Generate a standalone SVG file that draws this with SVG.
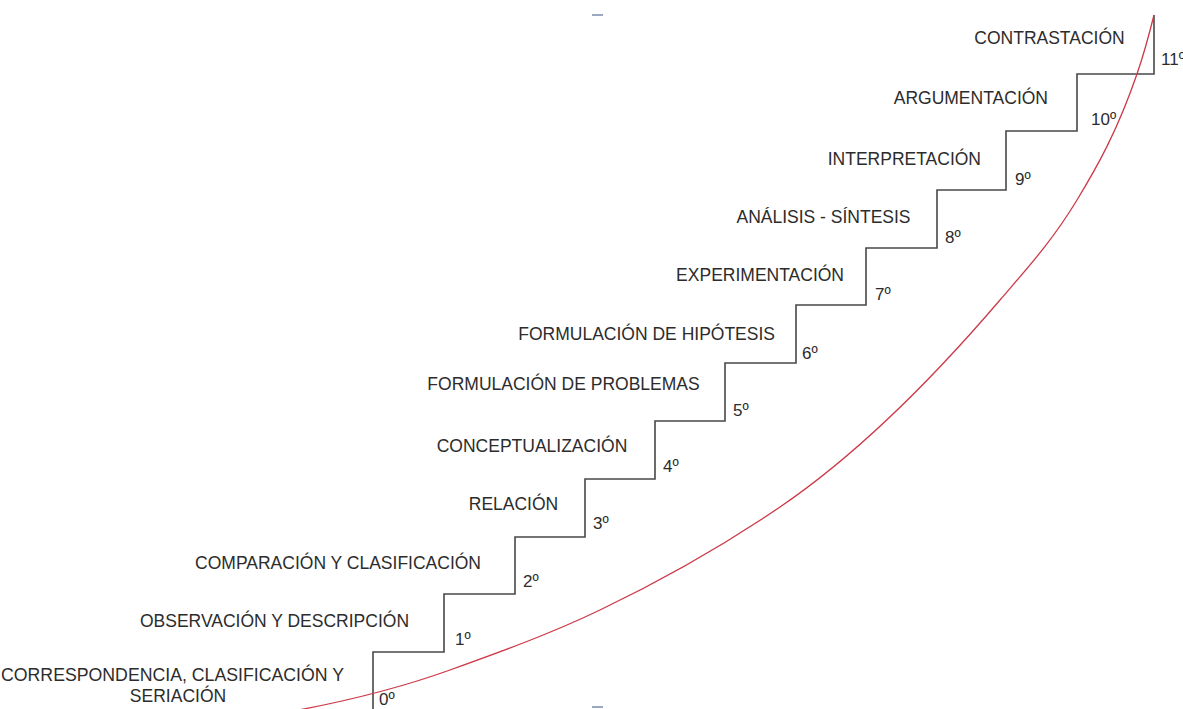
<svg xmlns="http://www.w3.org/2000/svg" width="1183" height="709" viewBox="0 0 1183 709">
<style>
.lbl{font-family:"Liberation Sans",Arial,sans-serif;font-size:17.5px;fill:#2c2c2c;}
.num{font-family:"Liberation Sans",Arial,sans-serif;font-size:17px;fill:#2c2c2c;}
.stair{fill:none;stroke:#484848;stroke-width:1.6;}
.curve{fill:none;stroke:#cc3a48;stroke-width:1.3;}
</style>
<rect width="1183" height="709" fill="#ffffff"/>
<rect x="592" y="14" width="11" height="2" fill="#9aa8c0"/>
<rect x="592" y="706" width="11" height="2" fill="#9aa8c0"/>
<g id="connectors">
<path id="staircase" class="stair" d="M373,709 V652 H444 V594 H515 V537 H585 V479 H655 V421 H725 V363 H796 V305 H866 V248 H937 V190 H1006 V131 H1077 V74 H1154 V15"/>
<path id="curve" class="curve" d="M288,712 C340,702.5 398.33,688.6 450,670 C500,652 550,634 600,610 C660,581.2 720,547.8 780,507 C853.33,457.1 926.67,385.8 1000,300 C1025.67,270 1051.33,242.4 1077,200 C1097,167 1117,132 1137,74 C1142.67,57.6 1148.33,37.7 1154,15"/>
</g>
<g id="step0"><text class="lbl" x="1" y="681" textLength="343" lengthAdjust="spacingAndGlyphs">CORRESPONDENCIA, CLASIFICACIÓN Y</text><text class="lbl" x="178" y="702" text-anchor="middle">SERIACIÓN</text><text class="num" x="379" y="705">0º</text></g>
<g id="step1"><text class="lbl" x="274.5" y="627" text-anchor="middle">OBSERVACIÓN Y DESCRIPCIÓN</text><text class="num" x="455" y="645">1º</text></g>
<g id="step2"><text class="lbl" x="481" y="569" text-anchor="end">COMPARACIÓN Y CLASIFICACIÓN</text><text class="num" x="523" y="587">2º</text></g>
<g id="step3"><text class="lbl" x="513.5" y="510" text-anchor="middle">RELACIÓN</text><text class="num" x="593" y="529">3º</text></g>
<g id="step4"><text class="lbl" x="532" y="452" text-anchor="middle">CONCEPTUALIZACIÓN</text><text class="num" x="663" y="472">4º</text></g>
<g id="step5"><text class="lbl" x="563.5" y="390" text-anchor="middle">FORMULACIÓN DE PROBLEMAS</text><text class="num" x="733" y="416">5º</text></g>
<g id="step6"><text class="lbl" x="775" y="340" text-anchor="end">FORMULACIÓN DE HIPÓTESIS</text><text class="num" x="802" y="359">6º</text></g>
<g id="step7"><text class="lbl" x="844" y="281" text-anchor="end">EXPERIMENTACIÓN</text><text class="num" x="875" y="300">7º</text></g>
<g id="step8"><text class="lbl" x="823.5" y="223" text-anchor="middle">ANÁLISIS - SÍNTESIS</text><text class="num" x="945" y="243">8º</text></g>
<g id="step9"><text class="lbl" x="981" y="165" text-anchor="end">INTERPRETACIÓN</text><text class="num" x="1015" y="185">9º</text></g>
<g id="step10"><text class="lbl" x="1048" y="104" text-anchor="end">ARGUMENTACIÓN</text><text class="num" x="1091" y="125">10º</text></g>
<g id="step11"><text class="lbl" x="1049.5" y="44" text-anchor="middle">CONTRASTACIÓN</text><text class="num" x="1161" y="65">11º</text></g>
</svg>
